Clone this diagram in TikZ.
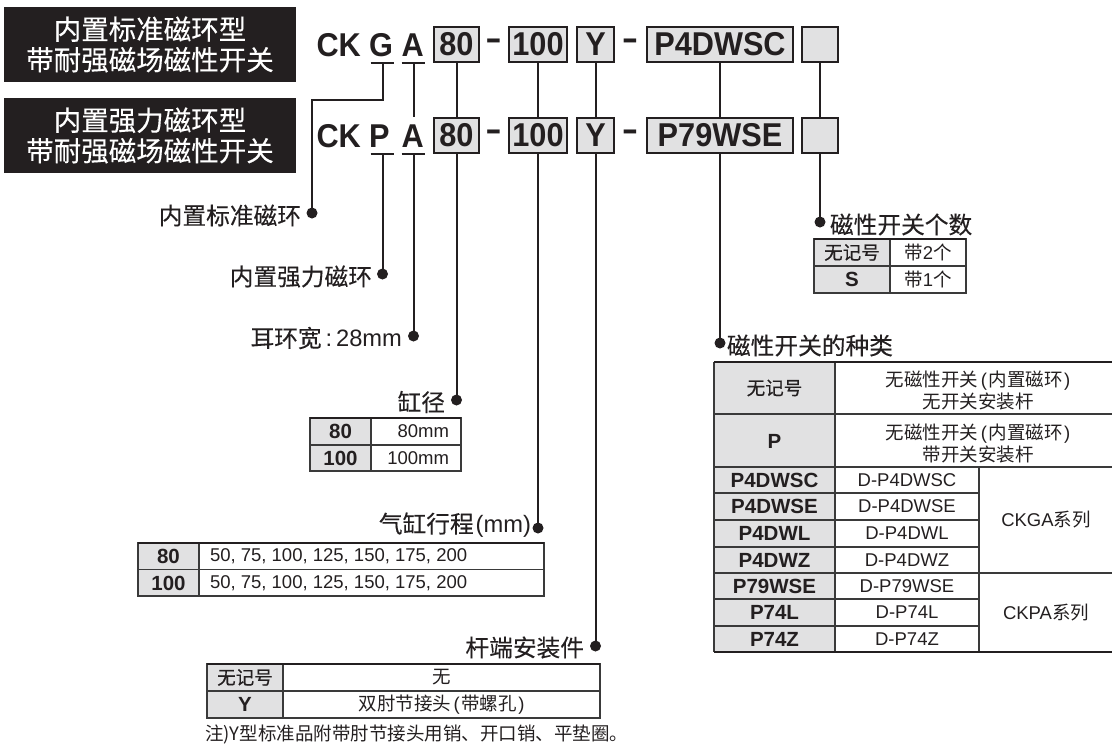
\documentclass[tikz,border=0pt]{standalone}
\usepackage{fontspec}
\usetikzlibrary{calc}
\setmainfont{Liberation Sans}
\newfontfamily\cjk{Noto Sans CJK SC}
\newfontfamily\cjkm[FakeBold=0.25]{Noto Sans CJK SC}
\newfontfamily\cjkb[FakeBold=0.5]{Noto Sans CJK SC}
\newfontfamily\codefont[FakeStretch=0.93]{Liberation Sans Bold}
\newcommand{\lp}{{\rmfamily\hspace{2.5pt}(\hspace{1.5pt}}}
\newcommand{\rp}{{\rmfamily\hspace{1.5pt})\hspace{2.5pt}}}
\definecolor{ink}{HTML}{231F20}
\definecolor{boxgrey}{HTML}{E1E1E2}
\definecolor{rulec}{HTML}{3A3A3A}
\tikzset{
  every node/.style={inner sep=0pt, outer sep=0pt, text=ink},
  titlebox/.style={fill=ink, text=white, minimum width=292pt, minimum height=75pt, align=center, font=\fontsize{27.5}{30.5}\selectfont\cjkm},
  codetxt/.style={font=\fontsize{33}{33}\selectfont\codefont},
  codebox/.style={draw=ink, line width=2pt, fill=boxgrey, font=\fontsize{33}{33}\selectfont\codefont, minimum height=35pt},
  conn/.style={draw=ink, line width=2pt},
  dotst/.style={circle, fill=ink, minimum size=11pt},
  lbl/.style={font=\fontsize{23.7}{26}\selectfont\cjkm},
  tthin/.style={draw=rulec, line width=1.1pt},
  ttop/.style={draw=ink, line width=2.2pt},
  tb/.style={font=\fontsize{20.5}{22}\selectfont\bfseries},
  tr/.style={font=\fontsize{18.5}{21}\selectfont},
  tc/.style={font=\fontsize{18.5}{22}\selectfont\cjk},
  tcb/.style={font=\fontsize{18.5}{22}\selectfont\cjkb},
}
\begin{document}
\begin{tikzpicture}[x=1pt,y=-1pt]
\useasboundingbox (0,0) rectangle (1112,745);

% ---- titles
\node[titlebox] (t1) at (150,44.5) {内置标准磁环型\\带耐强磁场磁性开关};
\node[titlebox] (t2) at (150,135.5) {内置强力磁环型\\带耐强磁场磁性开关};

% ---- code row 1
\node[codetxt, anchor=base west] (ck1) at (316.5,56.5) {CK};
\node[codetxt, anchor=base west] (g1) at (369,56.5) {G};
\node[codetxt, anchor=base west] (a1) at (401.5,56.5) {A};
\node[codebox, minimum width=45pt] (r1b80) at (456.5,44.5) {80};
\node[codetxt] (r1d1) at (493.5,44.5) {\scalebox{1.6}[1]{-}};
\node[codebox, minimum width=58pt] (r1b100) at (538,44.5) {100};
\node[codebox, minimum width=37pt] (r1bY) at (595.5,44.5) {Y};
\node[codetxt] (r1d2) at (630,44.5) {\scalebox{1.6}[1]{-}};
\node[codebox, minimum width=146pt] (r1bP) at (720,44.5) {P4DWSC};
\node[codebox, minimum width=36pt] (r1bE) at (820,44.5) {};

% ---- code row 2
\node[codetxt, anchor=base west] (ck2) at (316.5,147.5) {CK};
\node[codetxt, anchor=base west] (p2) at (369,147.5) {P};
\node[codetxt, anchor=base west] (a2) at (401.5,147.5) {A};
\node[codebox, minimum width=45pt] (r2b80) at (456.5,135.5) {80};
\node[codetxt] (r2d1) at (493.5,135.5) {\scalebox{1.6}[1]{-}};
\node[codebox, minimum width=58pt] (r2b100) at (538,135.5) {100};
\node[codebox, minimum width=37pt] (r2bY) at (595.5,135.5) {Y};
\node[codetxt] (r2d2) at (630,135.5) {\scalebox{1.6}[1]{-}};
\node[codebox, minimum width=146pt] (r2bP) at (720,135.5) {P79WSE};
\node[codebox, minimum width=36pt] (r2bE) at (820,135.5) {};

% underline points
\coordinate (g1u) at (382.5,63);
\coordinate (a1u) at (413.5,63);
\coordinate (p2u) at (382.5,154);
\coordinate (a2u) at (413.5,154);
\coordinate (a2t) at (413.5,117);
\foreach \c in {g1u,a1u,p2u,a2u}
  \draw[conn] ($(\c)+(-12,0)$) -- ($(\c)+(11.5,0)$);

% ---- dots
\node[dotst] (dG) at (312,213) {};
\node[dotst] (dPm) at (382.5,274) {};
\node[dotst] (dA) at (413.5,336) {};
\node[dotst] (d80) at (456.5,400) {};
\node[dotst] (d100) at (538,528) {};
\node[dotst] (dY) at (595.5,646) {};
\node[dotst] (dSw) at (720,343) {};
\node[dotst] (dN) at (820,222) {};

% ---- connectors
\draw[conn] (g1u) -- ++(0,37) -| (dG);
\draw[conn] (a1u) -- (a2t);
\draw[conn] (r1b80) -- (r2b80);
\draw[conn] (r1b100) -- (r2b100);
\draw[conn] (r1bY) -- (r2bY);
\draw[conn] (r1bP) -- (r2bP);
\draw[conn] (r1bE) -- (r2bE);
\draw[conn] (p2u) -- (dPm);
\draw[conn] (a2u) -- (dA);
\draw[conn] (r2b80) -- (d80);
\draw[conn] (r2b100) -- (d100);
\draw[conn] (r2bY) -- (dY);
\draw[conn] (r2bP) -- (dSw);
\draw[conn] (r2bE) -- (dN);

% ---- labels
\node[lbl, anchor=east] (lG) at (301,215.5) {内置标准磁环};
\node[lbl, anchor=east] (lP) at (372,276.5) {内置强力磁环};
\node[lbl, anchor=east] (lA) at (402,338) {耳环宽{\rmfamily\,:\,28mm}};
\node[lbl, anchor=east] (lB) at (445,402) {缸径};
\node[lbl, anchor=east] (lS) at (531,525) {气缸行程{\rmfamily\hspace{2pt}(mm)}};
\node[lbl, anchor=east] (lR) at (584,647.5) {杆端安装件};
\node[lbl, anchor=west] (lN) at (830,224.5) {磁性开关个数};
\node[lbl, anchor=west] (lT) at (727,345.5) {磁性开关的种类};

% ---- bore table
\fill[boxgrey] (310,418) rectangle (371,471);
\draw[tthin] (310,418) rectangle (461,471);
\draw[tthin] (371,418) -- (371,471);
\draw[tthin] (310,445) -- (461,445);
\draw[ttop] (310,418) -- (461,418);
\node[tb] (bo1) at (340.5,431.5) {80};
\node[tb] (bo2) at (340.5,458) {100};
\node[tr, anchor=east] (bo3) at (449,431.5) {80mm};
\node[tr, anchor=east] (bo4) at (449,458) {100mm};

% ---- stroke table
\fill[boxgrey] (138,543) rectangle (199,596);
\draw[tthin] (138,543) rectangle (544,596);
\draw[tthin] (199,543) -- (199,596);
\draw[tthin] (138,569.5) -- (544,569.5);
\draw[ttop] (138,543) -- (544,543);
\node[tb] (st1) at (168.5,556.5) {80};
\node[tb] (st2) at (168.5,583) {100};
\node[tr, anchor=west] (st3) at (210,556.5) {50, 75, 100, 125, 150, 175, 200};
\node[tr, anchor=west] (st4) at (210,583) {50, 75, 100, 125, 150, 175, 200};

% ---- rod end table
\fill[boxgrey] (207,664) rectangle (283,718);
\draw[tthin] (207,664) rectangle (600,718);
\draw[tthin] (283,664) -- (283,718);
\draw[tthin] (207,691) -- (600,691);
\draw[ttop] (207,664) -- (600,664);
\node[tcb] (ro1) at (245,677.5) {无记号};
\node[tb] (ro2) at (245,704.5) {Y};
\node[tc] (ro3) at (441.5,677.5) {无};
\node[tc] (ro4) at (441.5,704.5) {双肘节接头\lp 带螺孔\rp};
\node[tc, anchor=west] (note) at (205,734.5) {注)Y型标准品附带肘节接头用销、开口销、平垫圈。};

% ---- switch count table
\fill[boxgrey] (814,239) rectangle (890,293);
\draw[tthin] (814,239) rectangle (966,293);
\draw[tthin] (890,239) -- (890,293);
\draw[tthin] (814,266) -- (966,266);
\draw[ttop] (814,239) -- (966,239);
\node[tcb] (sw1) at (852,252.5) {无记号};
\node[tb] (sw2) at (852,279.5) {S};
\node[tc] (sw3) at (928,252.5) {带{\rmfamily 2}个};
\node[tc] (sw4) at (928,279.5) {带{\rmfamily 1}个};

% ---- switch type table
\fill[boxgrey] (714,362) rectangle (835,652);
\foreach \yy in {414,467,573}
  \draw[tthin] (714,\yy) -- (1113,\yy);
\foreach \yy in {493,520,547,599,626}
  \draw[tthin] (714,\yy) -- (979,\yy);
\draw[tthin] (714,362) -- (714,652);
\draw[tthin] (835,362) -- (835,652);
\draw[tthin] (979,467) -- (979,652);
\draw[draw=ink, line width=1.5pt] (714,652) -- (1113,652);
\draw[ttop] (714,362) -- (1113,362);
\node[tcb] (ty1) at (774.5,388) {无记号};
\node[tc, align=center] (ty1b) at (978,391) {无磁性开关\lp 内置磁环\rp\\无开关安装杆};
\node[tb] (ty2) at (774.5,441) {P};
\node[tc, align=center] (ty2b) at (978,443.5) {无磁性开关\lp 内置磁环\rp\\带开关安装杆};
\node[tb] (ty3) at (774.5,480) {P4DWSC};
\node[tb] (ty4) at (774.5,506.5) {P4DWSE};
\node[tb] (ty5) at (774.5,533.5) {P4DWL};
\node[tb] (ty6) at (774.5,560) {P4DWZ};
\node[tb] (ty7) at (774.5,586) {P79WSE};
\node[tb] (ty8) at (774.5,612.5) {P74L};
\node[tb] (ty9) at (774.5,639) {P74Z};
\node[tr] (tz3) at (907,480) {D-P4DWSC};
\node[tr] (tz4) at (907,506.5) {D-P4DWSE};
\node[tr] (tz5) at (907,533.5) {D-P4DWL};
\node[tr] (tz6) at (907,560) {D-P4DWZ};
\node[tr] (tz7) at (907,586) {D-P79WSE};
\node[tr] (tz8) at (907,612.5) {D-P74L};
\node[tr] (tz9) at (907,639) {D-P74Z};
\node[tr] (ser1) at (1046,520) {CKGA{\cjk 系列}};
\node[tr] (ser2) at (1046,612.5) {CKPA{\cjk 系列}};
\end{tikzpicture}
\end{document}
